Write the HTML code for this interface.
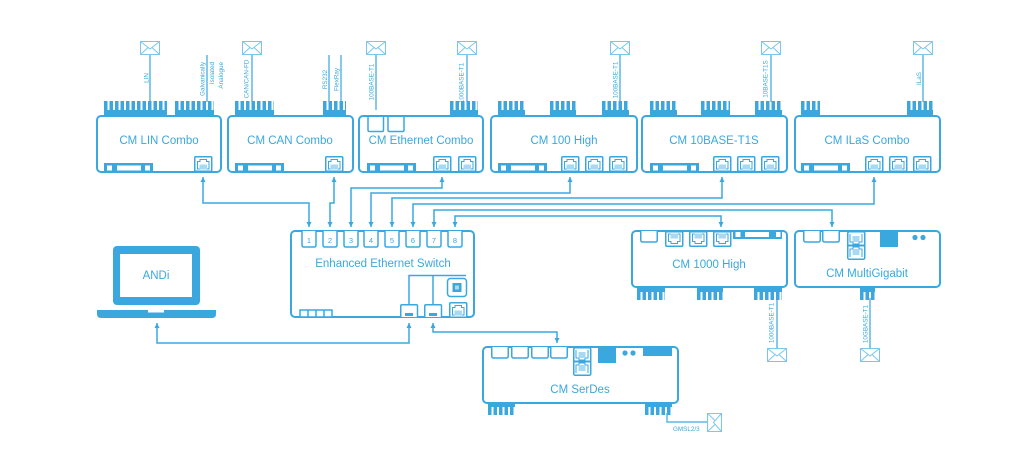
<!DOCTYPE html>
<html>
<head>
<meta charset="utf-8">
<style>
  html,body{margin:0;padding:0;background:#fff;}
  svg{display:block;}
  text{font-family:"Liberation Sans",sans-serif;fill:#3aa8df;}
</style>
</head>
<body>
<svg width="1024" height="474" viewBox="0 0 1024 474" xmlns="http://www.w3.org/2000/svg">
<defs>
  <marker id="ah" viewBox="0 0 10 10" refX="10" refY="5" markerWidth="5" markerHeight="5" orient="auto-start-reverse" markerUnits="userSpaceOnUse">
    <path d="M0 0 L10 5 L0 10 Z" fill="#3aa8df"/>
  </marker>
  <g id="rj">
    <rect x="0.75" y="0.75" width="17" height="14.5" rx="1" fill="#fff" stroke="#3aa8df" stroke-width="1.5"/>
    <path d="M3.5 13 V5.5 H6 V3.5 H12.5 V5.5 H15 V13 Z" fill="none" stroke="#3aa8df" stroke-width="1"/>
    <rect x="5.5" y="8.5" width="7.5" height="5" fill="#a9d9f2"/>
  </g>
  <g id="rjd">
    <rect x="0.75" y="0.75" width="17" height="14.5" rx="1" fill="#fff" stroke="#3aa8df" stroke-width="1.5"/>
    <path d="M3.5 3 V10.5 H6 V12.5 H12.5 V10.5 H15 V3 Z" fill="none" stroke="#3aa8df" stroke-width="1"/>
    <rect x="5.5" y="2.5" width="7.5" height="5" fill="#a9d9f2"/>
  </g>
  <g id="rj2">
    <rect x="0.75" y="0.75" width="17" height="27.5" rx="1.5" fill="#fff" stroke="#3aa8df" stroke-width="1.5"/>
    <path d="M3 3 V11 H6 V13 H12 V11 H15 V3" fill="none" stroke="#3aa8df" stroke-width="1"/>
    <path d="M3 26 V18 H6 V16 H12 V18 H15 V26" fill="none" stroke="#3aa8df" stroke-width="1"/>
    <rect x="5.5" y="5" width="7" height="6" fill="#a9d9f2"/>
    <rect x="5.5" y="18" width="7" height="6" fill="#a9d9f2"/>
    <rect x="1" y="13.5" width="16" height="2" fill="#3aa8df"/>
  </g>
  <g id="hp">
    <path d="M0.75 0 V9 Q0.75 11 2.75 11 H15.25 Q17.25 11 17.25 9 V0" fill="#fff" stroke="#3aa8df" stroke-width="1.5"/>
  </g>
  <g id="env">
    <rect x="0.5" y="0.5" width="19" height="13" fill="#fff" stroke="#7cc6ec" stroke-width="1"/>
    <path d="M0.5 0.5 L10 8 L19.5 0.5 M0.5 13.5 L8 6.5 M19.5 13.5 L12 6.5" fill="none" stroke="#7cc6ec" stroke-width="1"/>
  </g>
  <g id="strip">
    <rect x="0" y="0" width="49" height="9" fill="#3aa8df"/>
    <rect x="3" y="2.5" width="5" height="5" fill="#fff"/>
    <rect x="13" y="2.5" width="24" height="5" fill="#fff"/>
    <rect x="41" y="2.5" width="5" height="5" fill="#fff"/>
  </g>
</defs>

<!-- ===== Signal lines & envelopes (top) ===== -->
<g stroke="#5db7e5" stroke-width="1.5" fill="none">
  <line x1="150" y1="55" x2="150" y2="102"/>
  <line x1="207" y1="55" x2="207" y2="102"/>
  <line x1="252" y1="55" x2="252" y2="102"/>
  <line x1="329" y1="55" x2="329" y2="102"/>
  <line x1="341" y1="55" x2="341" y2="102"/>
  <line x1="376" y1="55" x2="376" y2="110"/>
  <line x1="467" y1="55" x2="467" y2="102"/>
  <line x1="620" y1="55" x2="620" y2="102"/>
  <line x1="771" y1="55" x2="771" y2="102"/>
  <line x1="923" y1="55" x2="923" y2="102"/>
  <line x1="777" y1="298" x2="777" y2="348"/>
  <line x1="870" y1="298" x2="870" y2="348"/>
  <polyline points="667,413 667,422 707,422"/>
</g>
<use href="#env" x="140" y="41"/>
<use href="#env" x="242" y="41"/>
<use href="#env" x="366" y="41"/>
<use href="#env" x="457" y="41"/>
<use href="#env" x="610" y="41"/>
<use href="#env" x="761" y="41"/>
<use href="#env" x="913" y="41"/>
<use href="#env" x="767" y="348"/>
<use href="#env" x="860" y="348"/>
<g transform="translate(722,413) rotate(90)"><use href="#env" x="0" y="0" transform="scale(0.95,1.07)"/></g>

<!-- vertical labels -->
<g font-size="6.3">
  <text transform="translate(148.5,78) rotate(-90)" text-anchor="middle">LIN</text>
  <text transform="translate(204.5,62) rotate(-90)" text-anchor="end">Galvanically</text>
  <text transform="translate(214,62) rotate(-90)" text-anchor="end">Isolated</text>
  <text transform="translate(223,62) rotate(-90)" text-anchor="end">Analogue</text>
  <text transform="translate(248.5,79) rotate(-90)" text-anchor="middle">CAN/CAN-FD</text>
  <text transform="translate(327,79.5) rotate(-90)" text-anchor="middle">RS232</text>
  <text transform="translate(338.5,79.5) rotate(-90)" text-anchor="middle">FlexRay</text>
  <text transform="translate(373.5,82) rotate(-90)" text-anchor="middle">100BASE-T1</text>
  <text transform="translate(463.5,83) rotate(-90)" text-anchor="middle">1000BASE-T1</text>
  <text transform="translate(617.5,80) rotate(-90)" text-anchor="middle">100BASE-T1</text>
  <text transform="translate(767.5,79) rotate(-90)" text-anchor="middle">10BASE-T1S</text>
  <text transform="translate(921,78.5) rotate(-90)" text-anchor="middle">ILaS</text>
  <text transform="translate(773.5,323) rotate(-90)" text-anchor="middle">1000BASE-T1</text>
  <text transform="translate(867.5,324) rotate(-90)" text-anchor="middle">10GBASE-T1</text>
  <text x="673" y="431">GMSL2/3</text>
</g>

<!-- ===== Top fins ===== -->
<g fill="#3aa8df">
  <rect x="104" y="110" width="63" height="7"/><rect x="175" y="110" width="39" height="7"/>
  <rect x="235" y="110" width="39" height="7"/><rect x="323" y="110" width="23" height="7"/>
  <rect x="450" y="110" width="28" height="7"/>
  <rect x="498" y="110" width="27" height="7"/><rect x="550" y="110" width="26" height="7"/><rect x="602" y="110" width="27" height="7"/>
  <rect x="650" y="110" width="27" height="7"/><rect x="701" y="110" width="29" height="7"/><rect x="755" y="110" width="27" height="7"/>
  <rect x="801" y="110" width="19" height="7"/><rect x="907" y="110" width="26" height="7"/>
  <!-- bottom fin bases -->
  <rect x="637" y="286" width="28" height="6"/><rect x="697" y="286" width="26" height="6"/><rect x="754" y="286" width="28" height="6"/>
  <rect x="860" y="286" width="15" height="6"/>
  <rect x="488" y="402" width="27" height="5"/><rect x="645" y="402" width="27" height="5"/>
</g>
<g stroke="#3aa8df" stroke-width="9" stroke-dasharray="3.5 2" fill="none">
  <line x1="104" y1="105.5" x2="167" y2="105.5"/><line x1="175" y1="105.5" x2="214" y2="105.5"/>
  <line x1="235" y1="105.5" x2="274" y2="105.5"/><line x1="323" y1="105.5" x2="346" y2="105.5"/>
  <line x1="450" y1="105.5" x2="478" y2="105.5"/>
  <line x1="498" y1="105.5" x2="525" y2="105.5"/><line x1="550" y1="105.5" x2="576" y2="105.5"/><line x1="602" y1="105.5" x2="629" y2="105.5"/>
  <line x1="650" y1="105.5" x2="677" y2="105.5"/><line x1="701" y1="105.5" x2="730" y2="105.5"/><line x1="755" y1="105.5" x2="782" y2="105.5"/>
  <line x1="801" y1="105.5" x2="820" y2="105.5"/><line x1="907" y1="105.5" x2="933" y2="105.5"/>
</g>
<g stroke="#3aa8df" stroke-width="8" stroke-dasharray="3.5 2" fill="none">
  <line x1="637" y1="296" x2="665" y2="296"/><line x1="697" y1="296" x2="723" y2="296"/><line x1="754" y1="296" x2="782" y2="296"/>
  <line x1="860" y1="296" x2="875" y2="296"/>
  <line x1="488" y1="411" x2="515" y2="411"/><line x1="645" y1="411" x2="672" y2="411"/>
</g>

<!-- ===== Module boxes ===== -->
<g fill="#fff" stroke="#3aa8df" stroke-width="2">
  <rect x="97" y="116" width="124" height="56" rx="4"/>
  <rect x="228" y="116" width="125" height="56" rx="4"/>
  <rect x="359" y="116" width="124" height="56" rx="4"/>
  <rect x="491" y="116" width="146" height="56" rx="4"/>
  <rect x="642" y="116" width="145" height="56" rx="4"/>
  <rect x="795" y="116" width="145" height="56" rx="4"/>
  <rect x="291" y="231" width="183" height="86" rx="4"/>
  <rect x="632" y="231" width="155" height="56" rx="4"/>
  <rect x="795" y="231" width="145" height="56" rx="4"/>
  <rect x="483" y="347" width="195" height="56" rx="4"/>
</g>

<!-- Ethernet combo small squares -->
<g fill="none" stroke="#3aa8df" stroke-width="1.5">
  <path d="M368 116 V130 Q368 131.5 369.5 131.5 H382 Q383.5 131.5 383.5 130 V116"/>
  <path d="M388 116 V130 Q388 131.5 389.5 131.5 H402.5 Q404 131.5 404 130 V116"/>
</g>

<!-- bottom strips -->
<use href="#strip" x="104" y="163"/>
<use href="#strip" x="235" y="163"/>
<use href="#strip" x="367" y="163"/>
<use href="#strip" x="498" y="163"/>
<use href="#strip" x="650" y="163"/>
<use href="#strip" x="801" y="163"/>

<!-- RJ ports on top modules -->
<use href="#rj" x="194" y="156"/>
<use href="#rj" x="325" y="156"/>
<use href="#rj" x="433" y="156"/>
<use href="#rj" x="458" y="156"/>
<use href="#rj" x="561" y="156"/>
<use href="#rj" x="585" y="156"/>
<use href="#rj" x="609" y="156"/>
<use href="#rj" x="713" y="156"/>
<use href="#rj" x="737" y="156"/>
<use href="#rj" x="761" y="156"/>
<use href="#rj" x="865" y="156"/>
<use href="#rj" x="889" y="156"/>
<use href="#rj" x="913" y="156"/>

<!-- CM 1000 High top components -->
<use href="#hp" x="640" y="231"/>
<use href="#rjd" x="665" y="231"/>
<use href="#rjd" x="689" y="231"/>
<use href="#rjd" x="713" y="231"/>
<g>
  <rect x="733" y="231" width="49" height="8" fill="#3aa8df"/>
  <rect x="735.5" y="232" width="5" height="5" fill="#fff"/>
  <rect x="745" y="232" width="24" height="5" fill="#fff"/>
  <rect x="776" y="232" width="4.5" height="5" fill="#fff"/>
</g>

<!-- CM MultiGigabit top components -->
<use href="#hp" x="803" y="231"/>
<use href="#hp" x="822" y="231"/>
<use href="#rj2" x="847" y="231"/>
<rect x="880" y="231" width="18" height="16" fill="#3aa8df"/>
<circle cx="915" cy="237.5" r="2.6" fill="#3aa8df"/>
<circle cx="923" cy="237.5" r="2.6" fill="#3aa8df"/>

<!-- CM SerDes top components -->
<use href="#hp" x="491" y="347"/>
<use href="#hp" x="511" y="347"/>
<use href="#hp" x="531" y="347"/>
<use href="#hp" x="550" y="347"/>
<use href="#rj2" x="573" y="347"/>
<rect x="598" y="347" width="18" height="16" fill="#3aa8df"/>
<circle cx="625" cy="353" r="2.6" fill="#3aa8df"/>
<circle cx="633" cy="353" r="2.6" fill="#3aa8df"/>
<rect x="643" y="347" width="29" height="9" fill="#3aa8df"/>

<!-- ===== Switch internals ===== -->
<g fill="#fff" stroke="#3aa8df" stroke-width="1.5">
  <path d="M302 231 V245 Q302 247 304 247 H314 Q316 247 316 245 V231"/>
  <path d="M323 231 V245 Q323 247 325 247 H335 Q337 247 337 245 V231"/>
  <path d="M344 231 V245 Q344 247 346 247 H356 Q358 247 358 245 V231"/>
  <path d="M364 231 V245 Q364 247 366 247 H376 Q378 247 378 245 V231"/>
  <path d="M385 231 V245 Q385 247 387 247 H397 Q399 247 399 245 V231"/>
  <path d="M406 231 V245 Q406 247 408 247 H418 Q420 247 420 245 V231"/>
  <path d="M427 231 V245 Q427 247 429 247 H439 Q441 247 441 245 V231"/>
  <path d="M448 231 V245 Q448 247 450 247 H460 Q462 247 462 245 V231"/>
</g>
<g font-size="7.5" text-anchor="middle">
  <text x="309" y="243">1</text><text x="330" y="243">2</text><text x="351" y="243">3</text><text x="371" y="243">4</text>
  <text x="392" y="243">5</text><text x="413" y="243">6</text><text x="434" y="243">7</text><text x="455" y="243">8</text>
</g>
<g fill="none" stroke="#3aa8df" stroke-width="1.5">
  <polyline points="409,305 409,275.5 466,275.5"/>
  <line x1="433" y1="275.5" x2="433" y2="305"/>
  <rect x="447.5" y="278.5" width="19" height="18" rx="3" fill="#fff"/>
  <rect x="300" y="310" width="32" height="7" fill="#fff"/>
  <line x1="308" y1="310" x2="308" y2="317"/>
  <line x1="316" y1="310" x2="316" y2="317"/>
  <line x1="324" y1="310" x2="324" y2="317"/>
  <path d="M400.75 317 V306 Q400.75 304.75 402 304.75 H416.25 Q417.5 304.75 417.5 306 V317" fill="#fff"/>
  <path d="M424.75 317 V306 Q424.75 304.75 426 304.75 H440.25 Q441.5 304.75 441.5 306 V317" fill="#fff"/>
</g>
<rect x="452.5" y="283" width="9" height="9" fill="#3aa8df"/>
<rect x="455" y="285.5" width="4" height="4" fill="#a9d9f2"/>
<rect x="405" y="313" width="8" height="3" fill="#3aa8df"/>
<rect x="429" y="313" width="8" height="3" fill="#3aa8df"/>
<use href="#rj" x="449" y="302"/>

<!-- ===== Laptop ANDi ===== -->
<rect x="113" y="246" width="87" height="59" rx="4" fill="#3aa8df"/>
<rect x="120" y="254" width="72" height="43" fill="#fff"/>
<path d="M97 310 H216 V314 Q216 318 212 318 H101 Q97 318 97 314 Z" fill="#3aa8df"/>
<rect x="148" y="310" width="16" height="2.5" fill="#fff"/>

<!-- ===== Titles ===== -->
<g font-size="11.5" text-anchor="middle">
  <text x="159" y="144">CM LIN Combo</text>
  <text x="290" y="144">CM CAN Combo</text>
  <text x="421" y="144">CM Ethernet Combo</text>
  <text x="564" y="144">CM 100 High</text>
  <text x="714" y="144">CM 10BASE-T1S</text>
  <text x="867" y="144">CM ILaS Combo</text>
  <text x="383" y="267">Enhanced Ethernet Switch</text>
  <text x="709" y="268">CM 1000 High</text>
  <text x="867" y="277">CM MultiGigabit</text>
  <text x="580" y="393">CM SerDes</text>
  <text x="156" y="279">ANDi</text>
</g>

<!-- ===== Connectors ===== -->
<g fill="none" stroke="#3aa8df" stroke-width="1.5" marker-start="url(#ah)" marker-end="url(#ah)">
  <polyline points="203,177 203,203 309,203 309,227"/>
  <polyline points="334,177 334,203 330,203 330,227"/>
  <polyline points="442,177 442,188 351,188 351,227"/>
  <polyline points="371,227 371,193 570,193 570,177"/>
  <polyline points="392,227 392,198 722,198 722,177"/>
  <polyline points="413,227 413,204 874,204 874,177"/>
  <polyline points="434,227 434,210 832,210 832,227"/>
  <polyline points="455,227 455,216 721,216 721,227"/>
  <polyline points="409,323 409,343 157,343 157,323"/>
  <polyline points="433,323 433,332 557,332 557,343"/>
</g>
</svg>
</body>
</html>
